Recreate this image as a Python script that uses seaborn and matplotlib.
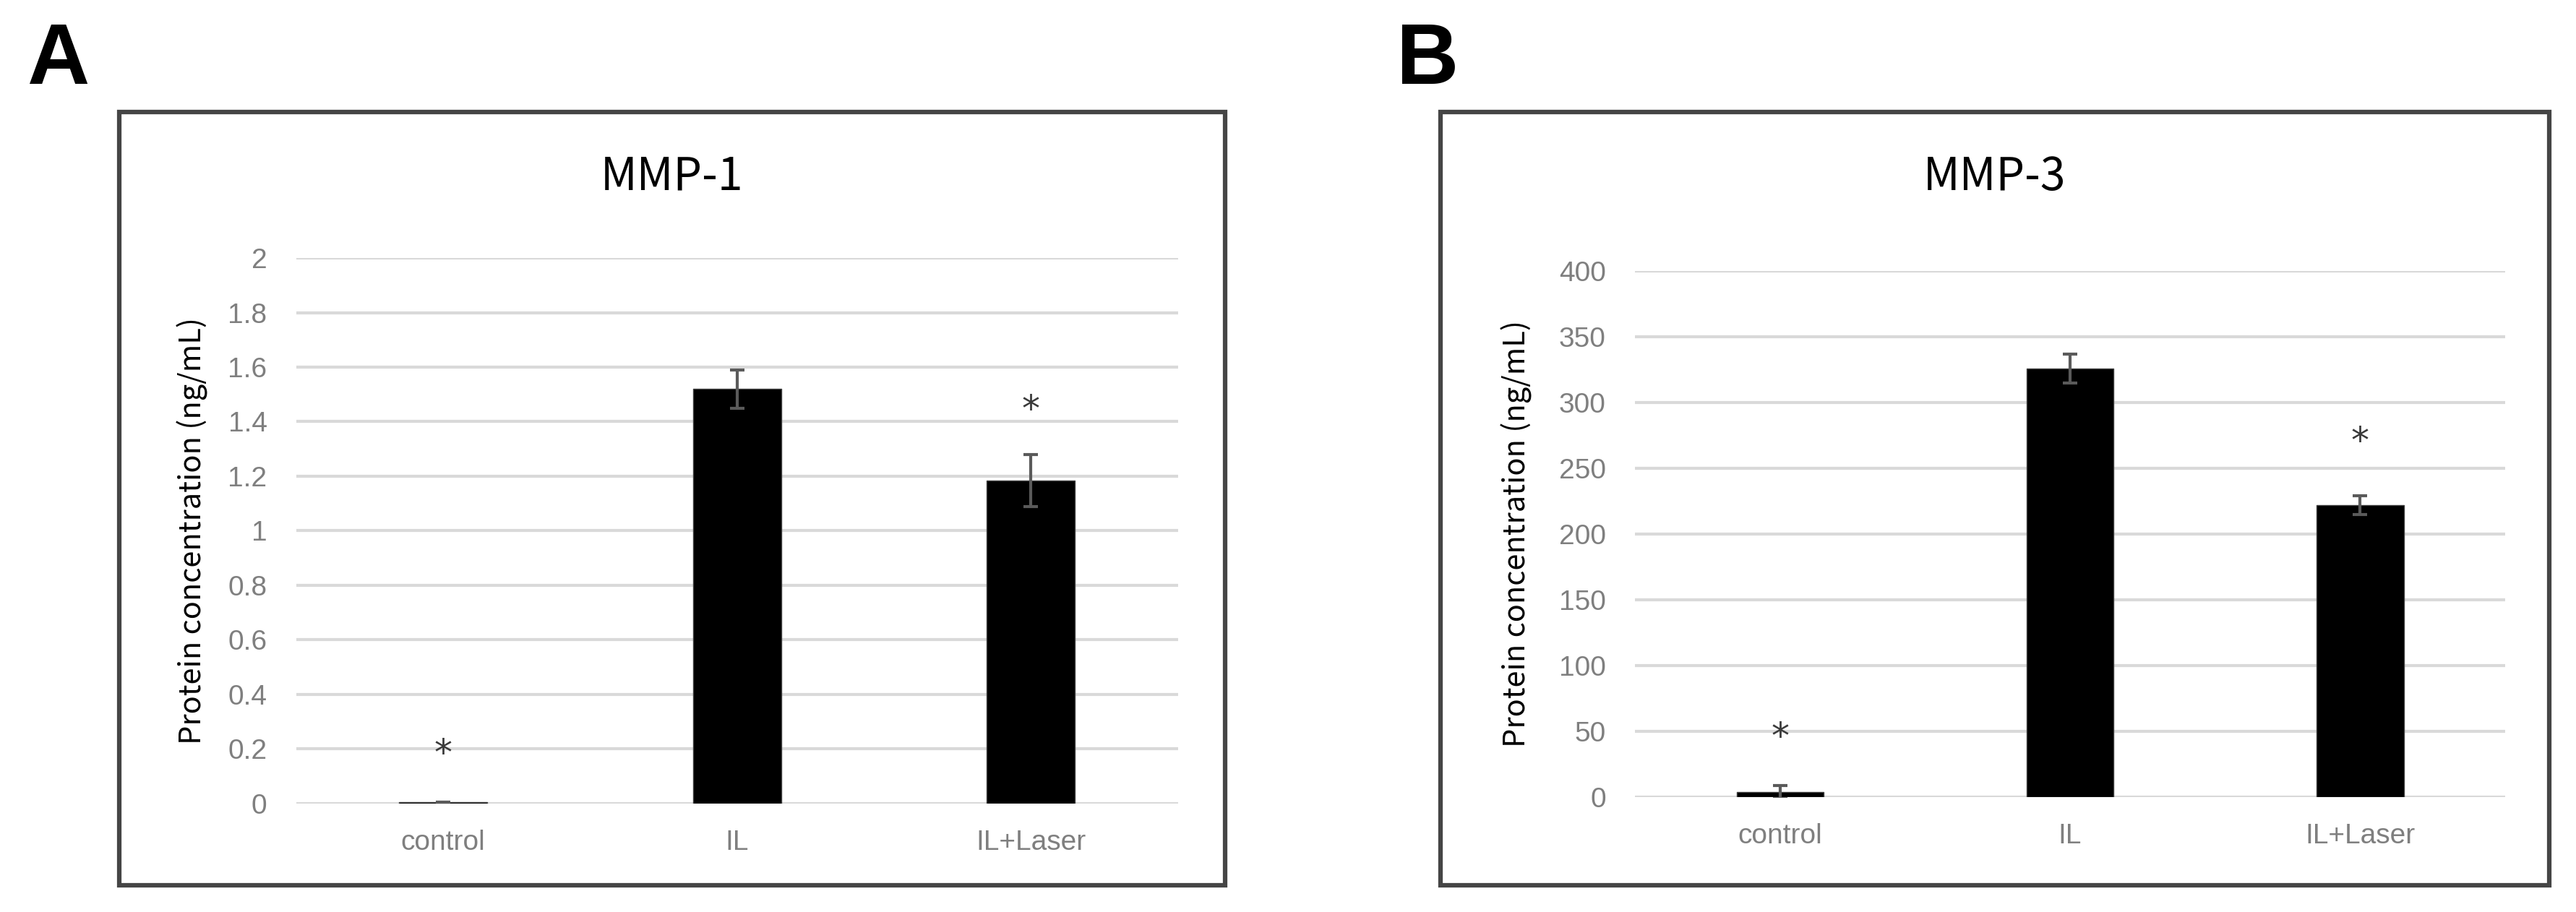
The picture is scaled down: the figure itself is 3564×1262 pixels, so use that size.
import numpy as np
import pandas as pd
import matplotlib
matplotlib.use("Agg")
import matplotlib.pyplot as plt
import seaborn as sns
from matplotlib.patches import Rectangle

# Data
groups = ["control", "IL", "IL+Laser"]

mmp1_mean = [0.005, 1.52, 1.185]
mmp1_err = [0.0, 0.07, 0.095]
mmp1_star = [0.18, None, 1.44]

mmp3_mean = [4.0, 326.0, 222.0]
mmp3_err = [5.0, 11.0, 7.0]
mmp3_star = [45.0, None, 270.0]

sns.set_theme(style="white")
plt.rcParams["font.family"] = ["Noto Sans CJK JP", "DejaVu Sans"]

fig = plt.figure(figsize=(35.64, 12.62), dpi=100)

tick_font = ["Liberation Sans", "DejaVu Sans"]
grid_col = "#d9d9d9"
tick_col = "#7f7f7f"


def panel(ax_rect, box_rect, letter, letter_x, title, mean, err, star, ylim, yticks, yticklabels, label_x):
    # outer frame around each panel
    fig.patches.append(Rectangle((box_rect[0], box_rect[1]), box_rect[2], box_rect[3],
                                 transform=fig.transFigure, fill=False,
                                 edgecolor="#454545", linewidth=4.5, zorder=0))
    fig.text(letter_x, 0.976, letter, fontsize=86, fontweight="bold",
             family=tick_font, va="top", ha="left", color="black")
    fig.text(box_rect[0] + box_rect[2] / 2, 0.806, title, fontsize=45,
             ha="center", va="center", color="black")

    ax = fig.add_axes(ax_rect)
    df = pd.DataFrame({"group": groups, "value": mean})
    sns.barplot(data=df, x="group", y="value", color="black", width=0.3,
                edgecolor="#404040", linewidth=1, errorbar=None, ax=ax, zorder=3)
    xs = np.arange(len(groups))
    ax.errorbar(xs, mean, yerr=err, fmt="none", ecolor="#5a5a5a",
                elinewidth=3, capsize=7.5, capthick=3, zorder=4)
    for x, s in zip(xs, star):
        if s is not None:
            ax.text(x, s, "*", ha="center", va="center", fontsize=36,
                    color="#3a3a3a", family="DejaVu Sans", zorder=5)

    ax.set_ylim(*ylim)
    ax.set_xlim(-0.5, len(groups) - 0.5)
    ax.set_yticks(yticks)
    ax.set_yticklabels(yticklabels)
    ax.yaxis.grid(True, color=grid_col, linewidth=3)
    ax.set_axisbelow(True)
    for sp in ax.spines.values():
        sp.set_visible(False)
    ax.tick_params(axis="y", length=0, pad=29, labelsize=28, labelcolor=tick_col)
    ax.tick_params(axis="x", length=0, pad=26, labelsize=28, labelcolor=tick_col)
    for lab in ax.get_xticklabels() + ax.get_yticklabels():
        lab.set_family(tick_font)
    ax.set_xlabel("")
    ax.set_ylabel("Protein concentration (ng/mL)", fontsize=30, color="black")
    ax.yaxis.set_label_coords(label_x, 0.5)
    return ax


panel([0.1150, 0.1189, 0.3423, 0.5982], [0.0463, 0.0293, 0.4293, 0.8479],
      "A", 0.0105, "MMP-1", mmp1_mean, mmp1_err, mmp1_star,
      (0, 2), np.arange(0, 2.01, 0.2),
      ["0", "0.2", "0.4", "0.6", "0.8", "1", "1.2", "1.4", "1.6", "1.8", "2"], -0.100)

panel([0.6347, 0.1260, 0.3378, 0.5769], [0.5592, 0.0293, 0.4304, 0.8479],
      "B", 0.5420, "MMP-3", mmp3_mean, mmp3_err, mmp3_star,
      (0, 400), np.arange(0, 401, 50),
      [str(v) for v in range(0, 401, 50)], -0.118)

fig.savefig("out.png", dpi=100, facecolor="white")
